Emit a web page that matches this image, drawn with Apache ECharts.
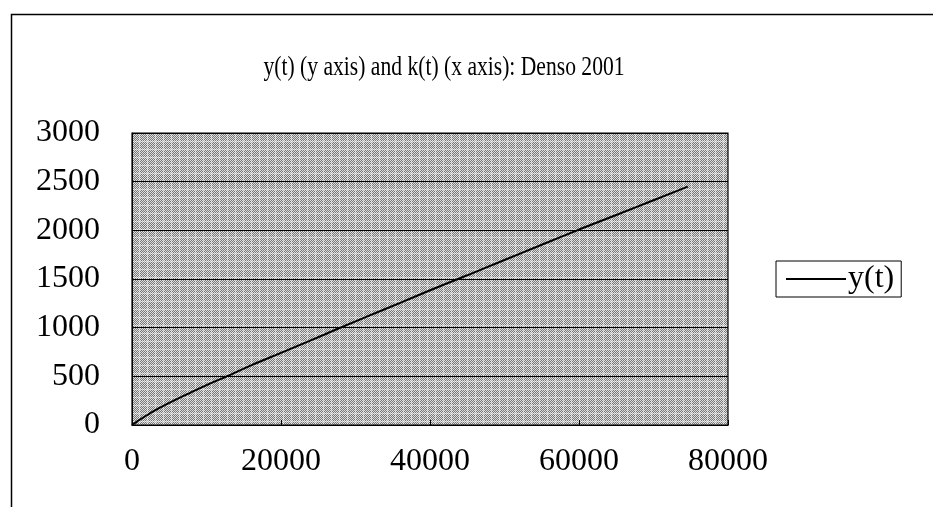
<!DOCTYPE html>
<html>
<head>
<meta charset="utf-8">
<script src="https://cdn.jsdelivr.net/npm/echarts@6/dist/echarts.min.js"></script>
<style>
  html, body { margin: 0; padding: 0; background: #fff; }
  #chart { width: 933px; height: 507px; }
</style>
</head>
<body>
<div id="chart"></div>
<script>
// Chart text
const titleText = 'y(t) (y axis) and k(t) (x axis): Denso 2001';
const seriesName = 'y(t)';

// k(t) on the x axis, y(t) on the y axis
const kValues = [0, 1000, 2000, 3500, 5000, 8000, 10000, 12500, 16000, 20000, 24000,
                 27700, 32000, 36000, 41000, 45000, 50000, 55000, 60000, 65000, 70000, 74600];
const yValues = [0, 52, 100, 167, 228, 338, 410, 492, 613, 741, 869,
                 991, 1129, 1255, 1415, 1538, 1695, 1852, 2008, 2158, 2309, 2449];

// Axis ranges / tick steps
const xMin = 0, xMax = 80000, xStep = 20000;
const yMin = 0, yMax = 3000, yStep = 500;

const serif = '"Liberation Serif", "Times New Roman", serif';

// Halftone-style grey fill tile for the plot area
function halftoneTile() {
  const n = 16;
  const c = document.createElement('canvas');
  c.width = n; c.height = n;
  const g = c.getContext('2d');
  const img = g.createImageData(n, n);
  for (let y = 0; y < n; y++) {
    for (let x = 0; x < n; x++) {
      let v = ((x + y) % 2) ? 118 : 224;
      if (x % 8 === 3 || y % 8 === 5) v = ((x + y) % 2) ? 180 : 246;
      const i = (y * n + x) * 4;
      img.data[i] = img.data[i + 1] = img.data[i + 2] = v;
      img.data[i + 3] = 255;
    }
  }
  g.putImageData(img, 0, 0);
  return c;
}

const plain = v => String(v);
const points = kValues.map((k, i) => [k, yValues[i]]);

const chart = echarts.init(document.getElementById('chart'), null, { renderer: 'canvas' });
chart.setOption({
  backgroundColor: '#fff',
  animation: false,
  legend: {
    data: [{ name: seriesName, icon: 'rect' }],
    left: 776,
    top: 261,
    orient: 'vertical',
    itemWidth: 60,
    itemHeight: 2,
    itemGap: 0,
    padding: [2, 7, 2, 10],
    borderColor: '#000',
    borderWidth: 1,
    backgroundColor: '#fff',
    textStyle: { fontFamily: serif, fontSize: 32, color: '#000', padding: [0, 0, 0, -3] }
  },
  grid: {
    left: 132,
    right: 205,
    top: 133,
    bottom: 82,
    show: true,
    backgroundColor: { image: halftoneTile(), repeat: 'repeat' },
    borderColor: '#000',
    borderWidth: 1.2
  },
  xAxis: {
    type: 'value',
    min: xMin, max: xMax, interval: xStep,
    axisLine: { show: true, lineStyle: { color: '#000', width: 1 } },
    axisTick: { show: true, inside: true, length: 5, lineStyle: { color: '#000' } },
    splitLine: { show: false },
    axisLabel: { fontFamily: serif, fontSize: 32, color: '#000', margin: 21, formatter: plain }
  },
  yAxis: {
    type: 'value',
    min: yMin, max: yMax, interval: yStep,
    axisLine: { show: true, lineStyle: { color: '#000', width: 1 } },
    axisTick: { show: false },
    splitLine: { show: true, lineStyle: { color: '#000', width: 1 } },
    axisLabel: { fontFamily: serif, fontSize: 32, color: '#000', margin: 32, formatter: plain }
  },
  series: [{
    name: seriesName,
    type: 'line',
    data: points,
    smooth: 0.3,
    symbol: 'none',
    lineStyle: { color: '#000', width: 2 },
    itemStyle: { color: '#000' }
  }],
  graphic: [{
    // outer chart frame (runs off the right and bottom edges)
    type: 'rect',
    left: 9, top: 12,
    shape: { width: 1000, height: 600 },
    style: { fill: null, stroke: '#000', lineWidth: 1.5 },
    silent: true
  }, {
    // chart title, set in a narrowed serif face
    type: 'text',
    x: 444, y: 68,
    scaleX: 0.8,
    style: {
      text: titleText,
      font: '27px ' + serif,
      fill: '#000',
      align: 'center',
      verticalAlign: 'middle'
    },
    silent: true
  }]
});
</script>
</body>
</html>
